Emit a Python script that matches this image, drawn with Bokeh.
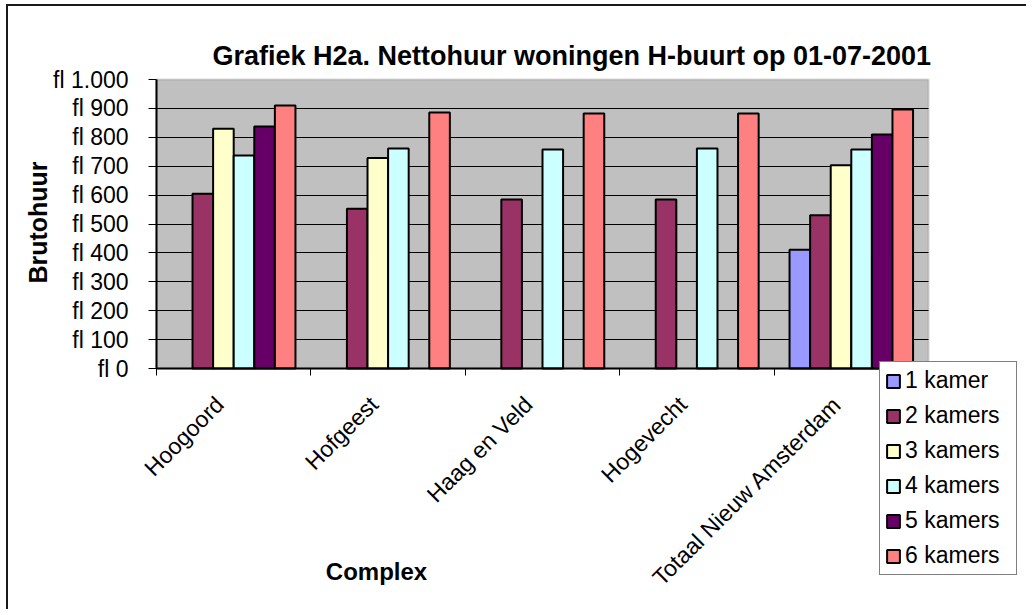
import math
from bokeh.plotting import figure
from bokeh.models import (ColumnDataSource, Range1d, FixedTicker, Legend, LegendItem, Label,
                          BoxAnnotation, LinearAxis, Grid)
from bokeh.core.properties import value
from bokeh.embed import file_html
from bokeh.resources import INLINE

# ---------------- data ----------------
title_text = "Grafiek H2a. Nettohuur woningen H-buurt op 01-07-2001"
complexes = ["Hoogoord", "Hofgeest", "Haag en Veld", "Hogevecht", "Totaal Nieuw Amsterdam"]
series_names = ["1 kamer", "2 kamers", "3 kamers", "4 kamers", "5 kamers", "6 kamers"]
kamer_1 = [None, None, None, None, 411]
kamers_2 = [605, 553, 585, 585, 530]
kamers_3 = [830, 728, None, None, 703]
kamers_4 = [737, 761, 758, 761, 758]
kamers_5 = [837, None, None, None, 810]
kamers_6 = [910, 886, 882, 882, 896]
series_values = [kamer_1, kamers_2, kamers_3, kamers_4, kamers_5, kamers_6]
colors = ["#9999FF", "#993366", "#FFFFCC", "#CCFFFF", "#660066", "#FF8080"]
y_ticks = [0, 100, 200, 300, 400, 500, 600, 700, 800, 900, 1000]
y_tick_labels = ["fl 0", "fl 100", "fl 200", "fl 300", "fl 400", "fl 500",
                 "fl 600", "fl 700", "fl 800", "fl 900", "fl 1.000"]

FONT = "Liberation Sans"

# ---------------- layout (canvas pixels) ----------------
W, H = 1020, 605
frame_left, frame_top = 10, 20
area_left, area_right = 148, 920      # grey plot area
area_top, area_bottom = 73, 362
ncat = len(complexes)
ymax = y_ticks[-1]
px_per_x = (area_right - area_left) / ncat
px_per_y = (area_bottom - area_top) / ymax
x_start = -(area_left - frame_left) / px_per_x
x_end = ncat + (W - area_right) / px_per_x
y_start = -(H - area_bottom) / px_per_y
y_end = ymax + (area_top - frame_top) / px_per_y


def dx(px):  # canvas x -> data x
    return (px - area_left) / px_per_x


def dy(py):  # canvas y -> data y
    return (area_bottom - py) / px_per_y


p = figure(width=W, height=H, output_backend="svg", toolbar_location=None,
           x_range=Range1d(x_start, x_end), y_range=Range1d(y_start, y_end),
           x_axis_location=None,
           min_border_left=frame_left, min_border_right=0, min_border_top=frame_top,
           min_border_bottom=0)
p.title.text = ""
p.title.visible = False

p.background_fill_color = "white"
p.border_fill_color = "white"
p.outline_line_color = None
p.xgrid.visible = False
p.ygrid.visible = False

# grey plot area
p.add_layout(BoxAnnotation(left=0, right=ncat, bottom=0, top=ymax, fill_color="#C0C0C0",
                           fill_alpha=1.0, line_color="#808080", line_width=2, level="image"))

# horizontal gridlines
grid_ticks = y_ticks[1:-1]
if "cross_bounds" in Grid.properties():
    g = Grid(dimension=1, ticker=FixedTicker(ticks=grid_ticks), cross_bounds=(0, ncat),
             grid_line_color="black", grid_line_width=1, level="underlay")
    p.add_layout(g)
else:
    p.segment(x0=[0] * len(grid_ticks), x1=[ncat] * len(grid_ticks), y0=grid_ticks,
              y1=grid_ticks, line_color="black", line_width=1, level="underlay")

# title
p.add_layout(Label(x=dx(204), y=dy(49), text=title_text,
                   text_font=FONT, text_font_size="27px", text_font_style="bold",
                   text_align="left", text_baseline="alphabetic", text_color="black"))

# bars
n = len(series_names)
bw = 1.0 / 7.5
items = []
for j, (name, vals, col) in enumerate(zip(series_names, series_values, colors)):
    xs, tops = [], []
    for i, v in enumerate(vals):
        if v is not None:
            xs.append(i + 0.5 + (j - (n - 1) / 2) * bw)
            tops.append(v)
    src = ColumnDataSource(dict(x=xs, top=tops))
    r = p.vbar(x="x", top="top", width=bw, bottom=0, source=src,
               fill_color=col, line_color="black", line_width=2)
    items.append(LegendItem(label=name, renderers=[r]))

# y axis (line + ticks at x = 0); its labels are drawn as text below
ya = p.yaxis[0]
ya.fixed_location = 0
ya.bounds = (0, ymax)
ya.ticker = FixedTicker(ticks=y_ticks)
ya.major_label_text_font_size = "0px"
ya.major_label_text_color = None
ya.major_label_standoff = 0
ya.major_tick_out = 8
ya.major_tick_in = 0
ya.minor_tick_out = 0
ya.minor_tick_in = 0
ya.axis_line_color = "black"
ya.axis_line_width = 2
ya.major_tick_line_color = "black"

p.text(x=[0] * len(y_ticks), y=y_ticks, text=y_tick_labels, x_offset=-28,
       text_align="right", text_baseline="middle",
       text_font=value(FONT), text_font_size="23px", text_color="black")

p.add_layout(Label(x=dx(29.5), y=dy(216), text="Brutohuur", angle=math.pi / 2,
                   text_font=FONT, text_font_size="25px", text_font_style="bold",
                   text_align="center", text_baseline="middle", text_color="black"))

# x axis line with ticks between the categories (placed at y = 0)
xa = LinearAxis(fixed_location=0, bounds=(0, ncat),
                ticker=FixedTicker(ticks=list(range(ncat + 1))),
                major_label_text_font_size="0px", major_label_text_color=None,
                major_label_standoff=0,
                major_tick_in=7, major_tick_out=0, minor_tick_in=0, minor_tick_out=0,
                major_tick_line_color="black", axis_line_color="black", axis_line_width=2)
p.add_layout(xa, "above")

# category labels, rotated 45 degrees, ending just left of each category centre
centers = [i + 0.5 for i in range(ncat)]
p.text(x=centers, y=[0] * ncat, text=complexes, angle=math.pi / 4,
       x_offset=-14, y_offset=32, text_align="right", text_baseline="middle",
       text_font=value(FONT), text_font_size="23px", text_color="black")

# x axis title
p.add_layout(Label(x=dx(368), y=dy(565), text="Complex",
                   text_font=FONT, text_font_size="24px", text_font_style="bold",
                   text_align="center", text_baseline="alphabetic", text_color="black"))

legend = Legend(items=items, location=(871 - frame_left, H - 569), orientation="vertical",
                label_text_font=FONT, label_text_font_size="23px", label_text_color="black",
                glyph_width=16, glyph_height=16, label_standoff=4, label_width=106,
                spacing=8, padding=5, margin=0, border_line_color="black",
                border_line_width=1, background_fill_color="white",
                background_fill_alpha=1.0)
p.add_layout(legend, "center")

p.styles = {"margin-left": "6px", "margin-top": "4px",
            "border-top": "2px solid #1a1a1a", "border-left": "2px solid #1a1a1a"}

open("out.html", "w").write(file_html(p, INLINE))
